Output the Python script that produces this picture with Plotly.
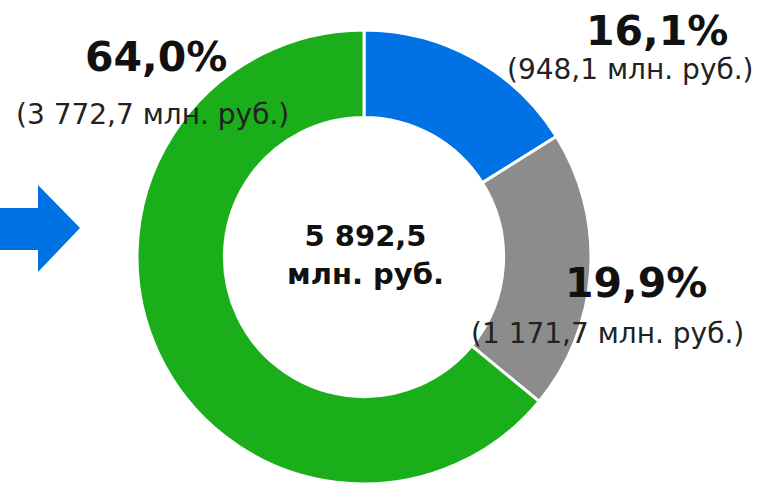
import plotly.graph_objects as go

W, H = 758, 484

# Data
categories = ["Сегмент 1", "Сегмент 2", "Сегмент 3"]
values = [948.1, 1171.7, 3772.7]
percent_labels = ["16,1%", "19,9%", "64,0%"]
value_labels = ["(948,1 млн. руб.)", "(1 171,7 млн. руб.)", "(3 772,7 млн. руб.)"]
total_label = "5 892,5<br>млн. руб."
colors = ["#0072e3", "#8c8c8c", "#1aaf1a"]

def px(x):
    return x / W

def py(y):
    return 1 - y / H

cx, cy, r = 364, 257, 227

fig = go.Figure()
fig.add_trace(go.Pie(
    labels=categories,
    values=values,
    hole=0.615,
    sort=False,
    direction="clockwise",
    rotation=0,
    marker=dict(colors=colors, line=dict(color="white", width=3)),
    textinfo="none",
    hoverinfo="label+value+percent",
    showlegend=False,
    domain=dict(x=[px(cx - r), px(cx + r)], y=[max(0, py(cy + r)), min(1, py(cy - r))]),
))

font_family = "DejaVu Sans, Verdana, sans-serif"
ann_pos = [
    ((657, 31), (630, 70)),
    ((636, 283), (607, 333)),
    ((156, 57), (152, 114)),
]
annotations = []
for (p_xy, v_xy), pl, vl in zip(ann_pos, percent_labels, value_labels):
    annotations.append(dict(x=px(p_xy[0]), y=py(p_xy[1]), xref="paper", yref="paper",
                            text="<b>" + pl + "</b>", showarrow=False,
                            xanchor="center", yanchor="middle",
                            font=dict(family=font_family, size=41, color="#111111")))
    annotations.append(dict(x=px(v_xy[0]), y=py(v_xy[1]), xref="paper", yref="paper",
                            text=vl, showarrow=False,
                            xanchor="center", yanchor="middle",
                            font=dict(family=font_family, size=28, color="#222222")))
annotations.append(dict(x=px(365), y=py(255), xref="paper", yref="paper",
                        text="<b>" + total_label + "</b>", showarrow=False,
                        xanchor="center", yanchor="middle",
                        font=dict(family=font_family, size=29, color="#111111")))

arrow_pts = [(-5, 208), (38, 208), (38, 185), (80, 228), (38, 272), (38, 250), (-5, 250)]
path = "M " + " L ".join(f"{px(x):.5f},{py(y):.5f}" for x, y in arrow_pts) + " Z"

fig.update_layout(
    width=W, height=H, autosize=False,
    margin=dict(l=0, r=0, t=0, b=0),
    paper_bgcolor="white", plot_bgcolor="white",
    annotations=annotations,
    shapes=[dict(type="path", xref="paper", yref="paper", path=path,
                 fillcolor=colors[0], line=dict(width=0))],
)

fig.write_html(
    "out.html",
    config={"displayModeBar": False},
    post_script="document.body.style.margin='0';document.body.style.overflow='hidden';",
)
